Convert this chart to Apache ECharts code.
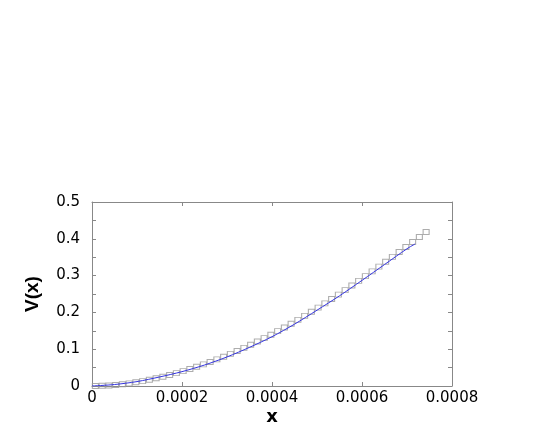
<!DOCTYPE html>
<html>
<head>
<meta charset="utf-8">
<script src="https://cdn.jsdelivr.net/npm/echarts@6/dist/echarts.min.js"></script>
<style>
  html, body { margin: 0; padding: 0; background: #fff; }
  #chart { width: 545px; height: 436px; }
</style>
</head>
<body>
<div id="chart"></div>
<script>
// measured points (open squares)
const pointX = [
  0.0000075, 0.0000225, 0.0000375, 0.0000525, 0.0000675, 0.0000825, 0.0000975,
  0.0001125, 0.0001275, 0.0001425, 0.0001575, 0.0001725, 0.0001875, 0.0002025,
  0.0002175, 0.0002325, 0.0002475, 0.0002625, 0.0002775, 0.0002925, 0.0003075,
  0.0003225, 0.0003375, 0.0003525, 0.0003675, 0.0003825, 0.0003975, 0.0004125,
  0.0004275, 0.0004425, 0.0004575, 0.0004725, 0.0004875, 0.0005025, 0.0005175,
  0.0005325, 0.0005475, 0.0005625, 0.0005775, 0.0005925, 0.0006075, 0.0006225,
  0.0006375, 0.0006525, 0.0006675, 0.0006825, 0.0006975, 0.0007125, 0.0007275,
  0.0007425
];
const pointV = [
  0.0000, 0.0005, 0.0015, 0.0029, 0.0048, 0.0071, 0.0100,
  0.0133, 0.0169, 0.0209, 0.0252, 0.0299, 0.0350, 0.0404,
  0.0462, 0.0523, 0.0587, 0.0654, 0.0724, 0.0797, 0.0874,
  0.0953, 0.1035, 0.1121, 0.1209, 0.1300, 0.1394, 0.1491,
  0.1591, 0.1693, 0.1798, 0.1906, 0.2016, 0.2129, 0.2245,
  0.2362, 0.2482, 0.2605, 0.2729, 0.2856, 0.2985, 0.3115,
  0.3245, 0.3377, 0.3510, 0.3643, 0.3778, 0.3913, 0.4048,
  0.4183
];

// fitted curve (blue line)
const curveX = [0, 0.00005, 0.0001, 0.00015, 0.0002, 0.00025, 0.0003, 0.00035,
  0.0004, 0.00045, 0.0005, 0.00055, 0.0006, 0.00065, 0.0007, 0.000718];
const curveV = [0, 0.004, 0.012, 0.0245, 0.039, 0.057, 0.079, 0.105,
  0.134, 0.168, 0.206, 0.245, 0.287, 0.330, 0.373, 0.386];

const xTicks = ['0', '0.0002', '0.0004', '0.0006', '0.0008'];
const yTicks = ['0', '0.1', '0.2', '0.3', '0.4', '0.5'];

const frameColor = '#888';
const labelFont = { color: '#000', fontFamily: 'DejaVu Sans', fontSize: 15 };

const chart = echarts.init(document.getElementById('chart'));

const baseX = {
  type: 'value',
  min: 0,
  max: 0.0008,
  interval: 0.0002,
  axisLine: { show: true, onZero: false, lineStyle: { color: frameColor, width: 1 } },
  axisTick: { show: true, inside: true, length: 4, lineStyle: { color: frameColor } },
  splitLine: { show: false }
};
const baseY = {
  type: 'value',
  min: 0,
  max: 0.5,
  interval: 0.1,
  axisLine: { show: true, onZero: false, lineStyle: { color: frameColor, width: 1 } },
  axisTick: { show: true, inside: true, length: 4, lineStyle: { color: frameColor } },
  minorTick: { show: true, splitNumber: 2, length: 4, lineStyle: { color: frameColor } },
  splitLine: { show: false }
};

chart.setOption({
  animation: false,
  backgroundColor: '#fff',
  grid: { left: 92, right: 93, top: 202, bottom: 50 },
  xAxis: [
    Object.assign({}, baseX, {
      position: 'bottom',
      name: 'x',
      nameLocation: 'middle',
      nameGap: 22,
      nameTextStyle: { color: '#000', fontFamily: 'DejaVu Sans', fontWeight: 'bold', fontSize: 18 },
      axisLabel: Object.assign({}, labelFont, {
        margin: 5,
        formatter: (v) => xTicks[Math.round(v / 0.0002)]
      })
    }),
    Object.assign({}, baseX, {
      position: 'top',
      axisLabel: { show: false }
    })
  ],
  yAxis: [
    Object.assign({}, baseY, {
      position: 'left',
      name: 'V(x)',
      nameLocation: 'middle',
      nameRotate: 90,
      nameGap: 50,
      nameTextStyle: { color: '#000', fontFamily: 'Liberation Sans', fontWeight: 'bold', fontSize: 19 },
      axisLabel: Object.assign({}, labelFont, {
        margin: 12,
        formatter: (v) => yTicks[Math.round(v / 0.1)]
      })
    }),
    Object.assign({}, baseY, {
      position: 'right',
      axisLabel: { show: false }
    })
  ],
  series: [
    {
      name: 'data',
      type: 'scatter',
      symbol: 'rect',
      symbolSize: [6, 5],
      data: pointX.map((x, i) => [x, pointV[i]]),
      itemStyle: { color: 'rgba(0,0,0,0)', borderColor: '#999', borderWidth: 1 },
      z: 2
    },
    {
      name: 'fit',
      type: 'line',
      smooth: 0.3,
      showSymbol: false,
      data: curveX.map((x, i) => [x, curveV[i]]),
      lineStyle: { color: '#3535e0', width: 1 },
      z: 3
    }
  ]
});
</script>
</body>
</html>
